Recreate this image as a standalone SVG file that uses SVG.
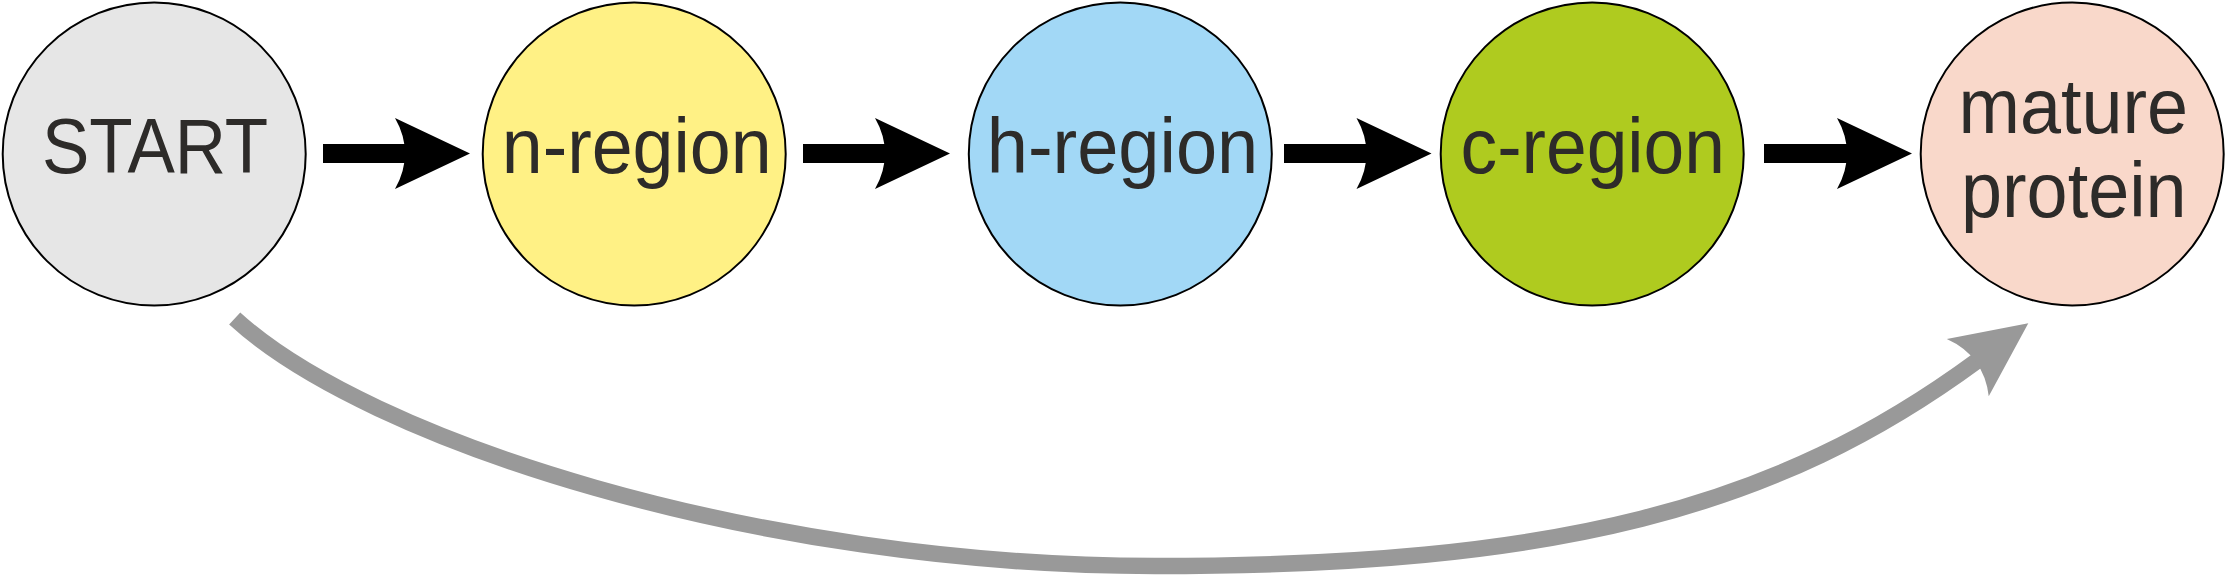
<svg xmlns="http://www.w3.org/2000/svg" xmlns:xlink="http://www.w3.org/1999/xlink" width="2226" height="576" viewBox="0 0 2226 576">
  <style>
    .node { stroke: #000000; stroke-width: 2; }
    .label { font-family: "Liberation Sans", Arial, sans-serif; font-size: 78px; fill: #2d2b29; text-anchor: middle; }
    .shaft { fill: #000000; }
    .curve { fill: none; stroke: #999999; stroke-width: 16.5; stroke-linecap: butt; }
  </style>
  <defs>
    <path id="head" d="M0,0 L-75,-35.5 Q-65,-18 -65,0 Q-65,18 -75,35.5 Z"/>
  </defs>
  <rect width="2226" height="576" fill="#ffffff"/>

  <g id="connectors">
    <g id="arrow-start-n">
      <rect class="shaft" x="323" y="144" width="87" height="19"/>
      <use xlink:href="#head" href="#head" transform="translate(470,153.5)" fill="#000000"/>
    </g>
    <g id="arrow-n-h">
      <rect class="shaft" x="803" y="144" width="87" height="19"/>
      <use xlink:href="#head" href="#head" transform="translate(950,153.5)" fill="#000000"/>
    </g>
    <g id="arrow-h-c">
      <rect class="shaft" x="1284" y="144" width="87" height="19"/>
      <use xlink:href="#head" href="#head" transform="translate(1431.5,153.5)" fill="#000000"/>
    </g>
    <g id="arrow-c-mature">
      <rect class="shaft" x="1764" y="144" width="87" height="19"/>
      <use xlink:href="#head" href="#head" transform="translate(1912,153.5)" fill="#000000"/>
    </g>
    <g id="arrow-start-mature">
      <path class="curve" d="M234.7,318.5 C367.3,440 757,566 1155,566 C1557,566 1776.5,508.5 1977.7,360.3"/>
      <use xlink:href="#head" href="#head" transform="translate(2028.3,323.3) rotate(-36.2)" fill="#999999"/>
    </g>
  </g>

  <g id="node-start">
    <circle class="node" cx="154.2" cy="154" r="151.5" fill="#e6e6e6"/>
    <text class="label" transform="translate(155,173.3) scale(0.91,1)">START</text>
  </g>
  <g id="node-n-region">
    <circle class="node" cx="634.2" cy="154" r="151.5" fill="#fff185"/>
    <text class="label" transform="translate(636.7,173.3) scale(0.943,1)">n-region</text>
  </g>
  <g id="node-h-region">
    <circle class="node" cx="1120.3" cy="154" r="151.5" fill="#a2d8f6"/>
    <text class="label" transform="translate(1122.5,173.3) scale(0.949,1)">h-region</text>
  </g>
  <g id="node-c-region">
    <circle class="node" cx="1592.2" cy="154" r="151.5" fill="#afcb1f"/>
    <text class="label" transform="translate(1592.8,173.3) scale(0.939,1)">c-region</text>
  </g>
  <g id="node-mature-protein">
    <circle class="node" cx="2072.2" cy="154" r="151.5" fill="#f9d8ca"/>
    <text class="label" transform="translate(2073.3,132.7) scale(0.946,1)">mature</text>
    <text class="label" transform="translate(2073.8,216.7) scale(0.946,1)">protein</text>
  </g>
</svg>
